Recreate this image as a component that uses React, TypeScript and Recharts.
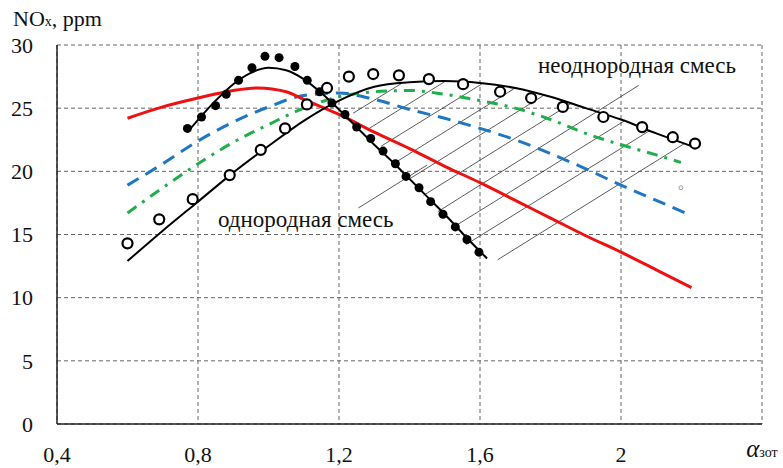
import React from "react";
import {
  ComposedChart,
  Line,
  Scatter,
  XAxis,
  YAxis,
  CartesianGrid,
} from "recharts";

// расчётные кривые
const redCurve = [
  { x: 0.6, y: 24.2 }, { x: 0.7, y: 25.1 }, { x: 0.8, y: 25.8 }, { x: 0.9, y: 26.4 },
  { x: 0.97, y: 26.6 }, { x: 1.05, y: 26.3 }, { x: 1.1, y: 25.7 }, { x: 1.15, y: 25.1 },
  { x: 1.2, y: 24.5 }, { x: 1.3, y: 23.1 }, { x: 1.4, y: 21.8 }, { x: 1.5, y: 20.4 },
  { x: 1.6, y: 19.1 }, { x: 1.7, y: 17.7 }, { x: 1.8, y: 16.3 }, { x: 1.9, y: 14.9 },
  { x: 2.0, y: 13.6 }, { x: 2.1, y: 12.2 }, { x: 2.2, y: 10.8 },
];

const blueCurve = [
  { x: 0.6, y: 18.9 }, { x: 0.7, y: 20.6 }, { x: 0.8, y: 22.4 }, { x: 0.9, y: 23.9 },
  { x: 1.0, y: 25.1 }, { x: 1.1, y: 26.0 }, { x: 1.2, y: 26.2 }, { x: 1.3, y: 25.7 },
  { x: 1.4, y: 24.9 }, { x: 1.5, y: 24.2 }, { x: 1.6, y: 23.4 }, { x: 1.7, y: 22.5 },
  { x: 1.8, y: 21.4 }, { x: 1.9, y: 20.2 }, { x: 2.0, y: 18.9 }, { x: 2.1, y: 17.7 },
  { x: 2.2, y: 16.5 },
];

const greenCurve = [
  { x: 0.6, y: 16.7 }, { x: 0.7, y: 18.7 }, { x: 0.8, y: 20.6 }, { x: 0.9, y: 22.3 },
  { x: 1.0, y: 23.7 }, { x: 1.1, y: 25.0 }, { x: 1.2, y: 25.9 }, { x: 1.3, y: 26.3 },
  { x: 1.4, y: 26.4 }, { x: 1.5, y: 26.1 }, { x: 1.6, y: 25.6 }, { x: 1.7, y: 25.0 },
  { x: 1.8, y: 24.1 }, { x: 1.9, y: 23.0 }, { x: 2.0, y: 22.1 }, { x: 2.1, y: 21.3 },
  { x: 2.17, y: 20.7 },
];

// однородная смесь: аппроксимация и эксперимент
const homoCurve = [
  { x: 0.77, y: 23.1 }, { x: 0.85, y: 25.6 }, { x: 0.9, y: 26.9 }, { x: 0.95, y: 27.8 },
  { x: 1.0, y: 28.2 }, { x: 1.05, y: 28.0 }, { x: 1.1, y: 27.3 }, { x: 1.15, y: 26.2 },
  { x: 1.2, y: 24.9 }, { x: 1.25, y: 23.5 }, { x: 1.3, y: 22.1 }, { x: 1.35, y: 20.8 },
  { x: 1.4, y: 19.4 }, { x: 1.45, y: 18.0 }, { x: 1.5, y: 16.6 }, { x: 1.55, y: 15.1 },
  { x: 1.62, y: 13.1 },
];

const homoPoints = [
  { x: 0.77, y: 23.4 }, { x: 0.81, y: 24.3 }, { x: 0.85, y: 25.2 }, { x: 0.88, y: 26.1 },
  { x: 0.915, y: 27.2 }, { x: 0.953, y: 28.2 }, { x: 0.99, y: 29.1 }, { x: 1.03, y: 29.0 },
  { x: 1.075, y: 28.3 }, { x: 1.11, y: 27.2 }, { x: 1.145, y: 26.3 }, { x: 1.18, y: 25.4 },
  { x: 1.217, y: 24.5 }, { x: 1.25, y: 23.5 }, { x: 1.29, y: 22.6 }, { x: 1.325, y: 21.6 },
  { x: 1.36, y: 20.6 }, { x: 1.39, y: 19.6 }, { x: 1.427, y: 18.7 }, { x: 1.46, y: 17.6 },
  { x: 1.495, y: 16.6 }, { x: 1.53, y: 15.6 }, { x: 1.563, y: 14.6 }, { x: 1.597, y: 13.6 },
];

// неоднородная смесь
const heteroCurve = [
  { x: 0.6, y: 12.9 }, { x: 0.7, y: 15.3 }, { x: 0.8, y: 17.6 }, { x: 0.9, y: 19.9 },
  { x: 1.0, y: 22.0 }, { x: 1.1, y: 24.0 }, { x: 1.2, y: 25.6 }, { x: 1.3, y: 26.7 },
  { x: 1.4, y: 27.05 }, { x: 1.5, y: 27.15 }, { x: 1.6, y: 27.0 }, { x: 1.7, y: 26.6 },
  { x: 1.8, y: 25.9 }, { x: 1.9, y: 25.0 }, { x: 2.0, y: 24.1 }, { x: 2.1, y: 23.0 },
  { x: 2.21, y: 21.9 },
];

const heteroPoints = [
  { x: 0.6, y: 14.3 }, { x: 0.69, y: 16.2 }, { x: 0.785, y: 17.8 }, { x: 0.89, y: 19.7 },
  { x: 0.978, y: 21.7 }, { x: 1.047, y: 23.4 }, { x: 1.109, y: 25.3 }, { x: 1.166, y: 26.6 },
  { x: 1.228, y: 27.5 }, { x: 1.297, y: 27.7 }, { x: 1.37, y: 27.6 }, { x: 1.455, y: 27.3 },
  { x: 1.552, y: 26.9 }, { x: 1.657, y: 26.3 }, { x: 1.745, y: 25.8 }, { x: 1.835, y: 25.1 },
  { x: 1.95, y: 24.3 }, { x: 2.06, y: 23.5 }, { x: 2.147, y: 22.7 }, { x: 2.21, y: 22.2 },
];

const strayPoint = [{ x: 2.17, y: 18.7 }];

// штриховка области между кривыми (+ выноски)
const hatchLines = [
  [{ x: 1.24, y: 24.6 }, { x: 1.38, y: 27.0 }],
  [{ x: 1.28, y: 23.3 }, { x: 1.5, y: 27.1 }],
  [{ x: 1.32, y: 22.0 }, { x: 1.61, y: 27.0 }],
  [{ x: 1.36, y: 20.7 }, { x: 1.7, y: 26.6 }],
  [{ x: 1.4, y: 19.4 }, { x: 1.78, y: 26.0 }],
  [{ x: 1.44, y: 18.1 }, { x: 1.86, y: 25.4 }],
  [{ x: 1.48, y: 16.8 }, { x: 2.05, y: 26.8 }],
  [{ x: 1.52, y: 15.5 }, { x: 2.01, y: 24.0 }],
  [{ x: 1.56, y: 14.2 }, { x: 2.08, y: 23.2 }],
  [{ x: 1.65, y: 13.0 }, { x: 2.18, y: 22.2 }],
  [{ x: 1.255, y: 17.1 }, { x: 1.45, y: 20.5 }],
];

const xTicks = [0.4, 0.8, 1.2, 1.6, 2.0, 2.4];
const yTicks = [0, 5, 10, 15, 20, 25, 30];

const FONT = "Liberation Serif";
const textStyle = { fontFamily: FONT };

function XTick(props: any) {
  const { x, y, payload } = props;
  if (payload.value === 2.4) {
    return (
      <text x={x} y={y} dy="0.71em" textAnchor="middle" style={textStyle} fill="#111">
        <tspan fontStyle="italic" fontSize={25}>α</tspan>
        <tspan fontSize={14}>зот</tspan>
      </text>
    );
  }
  const label = String(payload.value).replace(".", ",");
  return (
    <text x={x} y={y} dy="0.71em" textAnchor="middle" style={textStyle} fontSize={22} fill="#111">
      {label}
    </text>
  );
}

function YTick(props: any) {
  const { x, y, payload } = props;
  return (
    <text x={x} y={y} dy="0.355em" textAnchor="end" style={textStyle} fontSize={22} fill="#111">
      {payload.value}
    </text>
  );
}

export default function App() {
  return (
    <div style={{ position: "absolute", left: 0, top: 0, width: 783, height: 468, background: "#fff", fontFamily: FONT }}>
      <ComposedChart
        width={783}
        height={468}
        margin={{ top: 45, right: 21, bottom: 14, left: 17 }}
        style={textStyle}
      >
        <CartesianGrid stroke="#666" strokeDasharray="4 3" strokeWidth={1} />
        <XAxis
          type="number"
          dataKey="x"
          domain={[0.4, 2.4]}
          ticks={xTicks}
          allowDataOverflow
          height={30}
          tickLine={false}
          tickSize={6}
          tickMargin={16}
          axisLine={{ stroke: "#222", strokeWidth: 1.5 }}
          tick={<XTick />}
        />
        <YAxis
          type="number"
          dataKey="y"
          domain={[0, 30]}
          ticks={yTicks}
          width={40}
          tickLine={false}
          tickSize={6}
          tickMargin={18}
          axisLine={{ stroke: "#222", strokeWidth: 1.5 }}
          tick={<YTick />}
        />
        {hatchLines.map((seg, i) => (
          <Line
            key={`hatch-${i}`}
            data={seg}
            dataKey="y"
            type="linear"
            stroke="#333"
            strokeWidth={0.8}
            dot={false}
            isAnimationActive={false}
          />
        ))}
        <Line data={blueCurve} dataKey="y" type="monotone" stroke="#1f77c3" strokeWidth={3} strokeDasharray="13 8" dot={false} isAnimationActive={false} />
        <Line data={greenCurve} dataKey="y" type="monotone" stroke="#1fae4a" strokeWidth={3} strokeDasharray="11 7 3 7" dot={false} isAnimationActive={false} />
        <Line data={redCurve} dataKey="y" type="monotone" stroke="#ee1111" strokeWidth={3} dot={false} isAnimationActive={false} />
        <Line data={homoCurve} dataKey="y" type="monotone" stroke="#000" strokeWidth={2} dot={false} isAnimationActive={false} />
        <Line data={heteroCurve} dataKey="y" type="monotone" stroke="#000" strokeWidth={2} dot={false} isAnimationActive={false} />
        <Scatter
          data={homoPoints}
          dataKey="y"
          isAnimationActive={false}
          shape={(p: any) => <circle cx={p.cx} cy={p.cy} r={4.5} fill="#000" />}
        />
        <Scatter
          data={heteroPoints}
          dataKey="y"
          isAnimationActive={false}
          shape={(p: any) => <circle cx={p.cx} cy={p.cy} r={5} fill="#fff" stroke="#000" strokeWidth={2.2} />}
        />
        <Scatter
          data={strayPoint}
          dataKey="y"
          isAnimationActive={false}
          shape={(p: any) => <circle cx={p.cx} cy={p.cy} r={2} fill="none" stroke="#888" strokeWidth={0.8} />}
        />
      </ComposedChart>
      <svg width={783} height={468} style={{ position: "absolute", left: 0, top: 0, pointerEvents: "none", fontFamily: FONT }}>
        <text x={13} y={26} fill="#111">
          <tspan fontSize={22}>NO</tspan>
          <tspan fontSize={14}>x</tspan>
          <tspan fontSize={22}>, ppm</tspan>
        </text>
        <text x={538} y={73} fontSize={23} fill="#111">неоднородная смесь</text>
        <text x={218} y={227} fontSize={23} fill="#111">однородная смесь</text>
      </svg>
    </div>
  );
}
